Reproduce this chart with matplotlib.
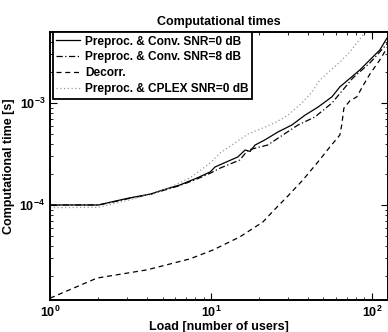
import numpy as np
import matplotlib
matplotlib.use("Agg")
import matplotlib.pyplot as plt

plt.rcParams['font.family'] = ['Liberation Sans', 'DejaVu Sans']
plt.rcParams['font.weight'] = 'bold'
plt.rcParams['font.size'] = 9

# Preproc. & Conv. SNR=0 dB
x_conv0 = [1, 2, 2.4, 3.1, 4.2, 5.0, 6.4, 8.2, 9.9, 10.6, 14.7, 16.3, 17.5, 18.8, 21.6,
           26.1, 31.8, 38.4, 46.2, 56.5, 63.3, 84.2, 112, 126]
y_conv0 = [1e-4, 1e-4, 1.07e-4, 1.17e-4, 1.28e-4, 1.40e-4, 1.57e-4, 1.84e-4, 2.11e-4, 2.36e-4,
           2.96e-4, 3.46e-4, 3.35e-4, 3.87e-4, 4.34e-4, 5.2e-4, 6.08e-4, 7.6e-4, 9.1e-4,
           1.15e-3, 1.44e-3, 2.11e-3, 3.31e-3, 4.5e-3]

# Preproc. & Conv. SNR=8 dB
x_conv8 = [1, 2, 2.4, 3.1, 4.2, 5.0, 6.4, 8.2, 9.9, 11.4, 15.1, 17.0, 22.5, 34.7, 44.3,
           56.5, 76.2, 97.2, 126]
y_conv8 = [1e-4, 1e-4, 1.06e-4, 1.16e-4, 1.27e-4, 1.38e-4, 1.55e-4, 1.80e-4, 2.05e-4, 2.3e-4,
           2.76e-4, 3.46e-4, 3.87e-4, 6.08e-4, 7.3e-4, 1.0e-3, 1.76e-3, 2.47e-3, 3.9e-3]

# Decorr.
x_dec = [1, 1.96, 4.0, 7.4, 10.3, 15.1, 21.0, 25.0, 29.7, 37.3, 46.2, 54.8, 63.3, 65, 67,
         73, 80.7, 87.9, 97.2, 112, 126]
y_dec = [1.22e-5, 1.92e-5, 2.31e-5, 2.96e-5, 3.62e-5, 4.86e-5, 6.8e-5, 9.1e-5, 1.2e-4,
         1.76e-4, 2.64e-4, 3.7e-4, 4.86e-4, 6.1e-4, 8.9e-4, 1.05e-3, 1.15e-3, 1.47e-3,
         1.92e-3, 2.64e-3, 3.6e-3]

# Preproc. & CPLEX SNR=0 dB
x_cplex = [1, 2, 3.1, 5.0, 7.4, 9.9, 11.4, 14.1, 17.0, 21.6, 25.0, 30.1, 36.7, 42.4,
           47.5, 63.3, 73, 88, 100]
y_cplex = [9.4e-5, 9.5e-5, 1.12e-4, 1.38e-4, 1.84e-4, 2.58e-4, 3.23e-4, 4.06e-4, 4.97e-4,
           5.8e-4, 6.4e-4, 7.6e-4, 1.0e-3, 1.28e-3, 1.68e-3, 2.52e-3, 3.16e-3, 4.64e-3, 5.6e-3]

fig = plt.figure(figsize=(3.88, 3.32), dpi=100)
ax = fig.add_axes([0.129, 0.0964, 0.871, 0.8072])

ax.plot(x_conv0, y_conv0, color='black', lw=0.9, ls='-', label='Preproc. & Conv. SNR=0 dB')
ax.plot(x_conv8, y_conv8, color='black', lw=0.9, ls=(0, (5, 2, 1, 2)), label='Preproc. & Conv. SNR=8 dB')
ax.plot(x_dec, y_dec, color='black', lw=0.9, ls=(0, (4, 3)), label='Decorr.')
ax.plot(x_cplex, y_cplex, color='#999999', lw=0.9, ls=(0, (1, 2)), label='Preproc. & CPLEX SNR=0 dB')

ax.set_xscale('log')
ax.set_yscale('log')
ax.set_xlim(1, 126)
ax.set_ylim(1.17e-5, 4.97e-3)

ax.tick_params(which='both', direction='in', top=True, right=True, labelsize=9)
ax.tick_params(which='major', length=5, width=0.8)
ax.tick_params(which='minor', length=2.5, width=0.6)
for s in ax.spines.values():
    s.set_linewidth(1.4)

ax.set_title('Computational times', fontsize=9, fontweight='bold', pad=5)
ax.set_xlabel('Load [number of users]', fontsize=9, fontweight='bold', labelpad=1)
ax.set_ylabel('Computational time [s]', fontsize=9, fontweight='bold', labelpad=3)

leg = ax.legend(loc='upper left', bbox_to_anchor=(0.008, 1.0), fancybox=False, framealpha=1,
                edgecolor='black', borderpad=0.3, labelspacing=0.32, handlelength=2.0,
                handletextpad=0.4, borderaxespad=0.0, prop={'weight': 'bold', 'size': 8.6})
leg.get_frame().set_linewidth(1.3)

fig.savefig('out.png', dpi=100)
